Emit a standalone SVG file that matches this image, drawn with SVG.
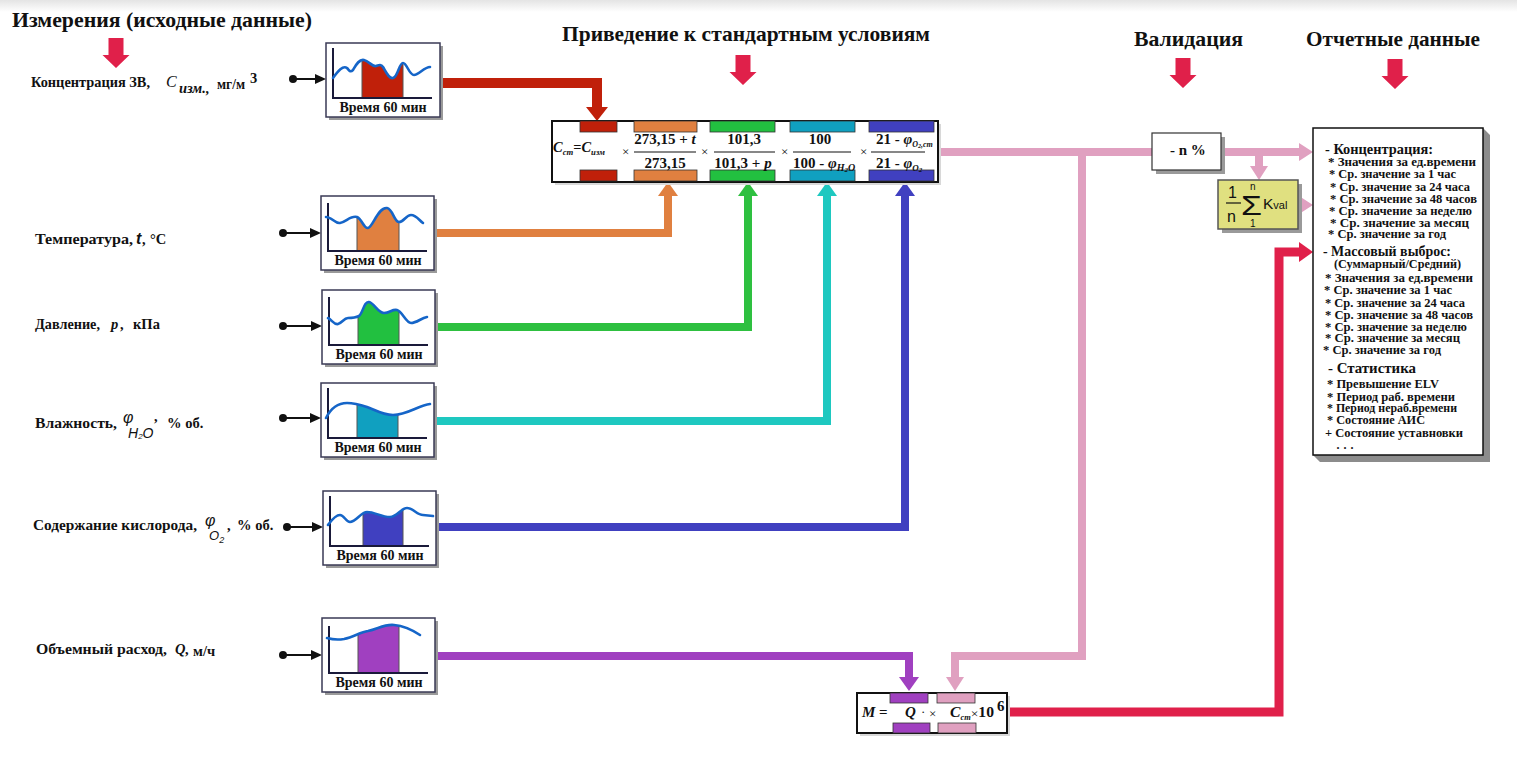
<svg xmlns="http://www.w3.org/2000/svg" width="1517" height="757" viewBox="0 0 1517 757">
<defs>
<style>
text{font-family:"Liberation Serif","Times New Roman",serif;fill:#111}
.ttl{font-family:"Liberation Serif",serif;font-size:21px;font-weight:bold}
.hdr{font-family:"Liberation Serif",serif;font-size:22px;font-weight:bold}
.lbl{font-family:"Liberation Serif",serif;font-size:14.5px;font-weight:bold}
.cl{font-family:"Liberation Serif",serif;font-size:14px;font-weight:bold}
.fx{font-family:"Liberation Serif",serif;font-size:15px;font-weight:bold}
.it{font-style:italic}
.sans{font-family:"Liberation Sans",Arial,sans-serif}
.rh{font-family:"Liberation Serif",serif;font-size:15px;font-weight:bold}
.ri{font-family:"Liberation Serif",serif;font-size:12px;font-weight:bold}
.box{fill:#fff;stroke:#3a3a55;stroke-width:1.5}
.shadow{fill:#9a9a9a}
.axis{stroke:#1a1a3a;stroke-width:2;fill:none}
.curve{stroke:#1565c8;stroke-width:2.6;fill:none;stroke-linecap:round}
.tab{stroke:#333;stroke-width:0.8}
.conn{fill:none;stroke-linejoin:miter}
.in{stroke:#111;stroke-width:2}
.mul{font-family:"Liberation Serif",serif;font-size:13px;font-weight:normal}
.fl{stroke:#111;stroke-width:1.2}
</style>
<linearGradient id="topband" x1="0" y1="0" x2="0" y2="1">
<stop offset="0" stop-color="#e4e4e4"/><stop offset="1" stop-color="#ffffff"/>
</linearGradient>
<path id="hdrArrow" d="M-7.5,0 H7.5 V17 H13.5 L0,30 L-13.5,17 H-7.5 Z" fill="#E0204A"/>
<marker id="ah-in" viewBox="0 0 11 10" refX="0" refY="5" markerWidth="11" markerHeight="10" orient="auto" markerUnits="userSpaceOnUse"><path d="M0,0 L11,5 L0,10 z" fill="#111"/></marker>
<marker id="ah-red" viewBox="0 0 14 22" refX="0" refY="11" markerWidth="14" markerHeight="22" orient="auto" markerUnits="userSpaceOnUse"><path d="M0,0 L14,11 L0,22 z" fill="#C0200A"/></marker>
<marker id="ah-orange" viewBox="0 0 14 20" refX="0" refY="10" markerWidth="14" markerHeight="20" orient="auto" markerUnits="userSpaceOnUse"><path d="M0,0 L14,10 L0,20 z" fill="#E08040"/></marker>
<marker id="ah-green" viewBox="0 0 14 20" refX="0" refY="10" markerWidth="14" markerHeight="20" orient="auto" markerUnits="userSpaceOnUse"><path d="M0,0 L14,10 L0,20 z" fill="#2EC040"/></marker>
<marker id="ah-cyan" viewBox="0 0 14 20" refX="0" refY="10" markerWidth="14" markerHeight="20" orient="auto" markerUnits="userSpaceOnUse"><path d="M0,0 L14,10 L0,20 z" fill="#1EC8C0"/></marker>
<marker id="ah-blue" viewBox="0 0 14 20" refX="0" refY="10" markerWidth="14" markerHeight="20" orient="auto" markerUnits="userSpaceOnUse"><path d="M0,0 L14,10 L0,20 z" fill="#4040C0"/></marker>
<marker id="ah-purple" viewBox="0 0 14 20" refX="0" refY="10" markerWidth="14" markerHeight="20" orient="auto" markerUnits="userSpaceOnUse"><path d="M0,0 L14,10 L0,20 z" fill="#A040C0"/></marker>
<marker id="ah-pink" viewBox="0 0 14 18" refX="0" refY="9" markerWidth="14" markerHeight="18" orient="auto" markerUnits="userSpaceOnUse"><path d="M0,0 L14,9 L0,18 z" fill="#E0A0C0"/></marker>
<marker id="ah-crimson" viewBox="0 0 14 20" refX="0" refY="10" markerWidth="14" markerHeight="20" orient="auto" markerUnits="userSpaceOnUse"><path d="M0,0 L14,10 L0,20 z" fill="#E0204A"/></marker>
<clipPath id="a1" clipPathUnits="userSpaceOnUse"><path d="M7,35 C12,28 17,22 21,25 C23,27 24,30 27,27 C30,22 33,16 38,17 C43,18 46,24 50,23 C53,22 55,21 57,24 C60,29 63,36 67,35 C72,34 73,20 77,20 C81,20 83,32 88,32 C93,32 98,24 104,24 L104,55 L7,55 Z"/></clipPath>
<clipPath id="a2" clipPathUnits="userSpaceOnUse"><path d="M5,21 C11,21 14,28 19,27 C25,26 30,19 36,21 C41,23 43,33 47,32 C52,31 57,11 66,12 C72,13 73,26 78,26 C83,26 85,19 90,19 C95,19 98,24 102,27 L102,55 L5,55 Z"/></clipPath>
<clipPath id="a3" clipPathUnits="userSpaceOnUse"><path d="M6,28 C10,30 12,35 16,34 C20,33 22,28 26,28 C30,28 33,28 37,26 C41,23 42,11 47,12 C52,13 56,23 62,23 C68,23 70,19 75,20 C80,21 84,33 89,33 C95,33 99,28 105,27 L105,55 L6,55 Z"/></clipPath>
<clipPath id="a4" clipPathUnits="userSpaceOnUse"><path d="M5,35 C10,25 18,20 26,20 C34,20 40,22 46,24 C54,27 62,32 72,32 C86,32 98,22 109,21 L109,55 L5,55 Z"/></clipPath>
<clipPath id="a5" clipPathUnits="userSpaceOnUse"><path d="M5,34 C8,30 12,24 17,24 C21,24 23,31 27,31 C33,31 38,21 44,21 C52,21 58,26 67,26 C74,26 78,17 84,17 C90,17 94,24 100,24 L110,25 L110,55 L5,55 Z"/></clipPath>
<clipPath id="a6" clipPathUnits="userSpaceOnUse"><path d="M5,20 C12,22 16,22 22,21 C32,19 38,14 46,13 C56,11 62,6 72,7 C83,8 92,13 98,17 L98,55 L5,55 Z"/></clipPath>
</defs>

<rect x="0" y="0" width="1517" height="757" fill="#fff"/>
<rect x="0" y="0" width="1517" height="12" fill="url(#topband)"/>

<g id="headers">
<text class="ttl" x="12" y="27" textLength="300" lengthAdjust="spacingAndGlyphs">Измерения  (исходные данные)</text>
<text class="hdr" x="562" y="41" textLength="368" lengthAdjust="spacingAndGlyphs">Приведение к стандартным условиям</text>
<text class="hdr" x="1134" y="46" textLength="109" lengthAdjust="spacingAndGlyphs">Валидация</text>
<text class="hdr" x="1306" y="46" textLength="174" lengthAdjust="spacingAndGlyphs">Отчетные данные</text>
<use href="#hdrArrow" x="116" y="38"/>
<use href="#hdrArrow" x="743" y="55"/>
<use href="#hdrArrow" x="1183" y="58"/>
<use href="#hdrArrow" x="1395" y="59"/>
</g>

<g id="connectors" class="conn">
<path d="M441,83 H597 V107" stroke="#C0200A" stroke-width="10" fill="none" marker-end="url(#ah-red)"/>
<path d="M434,233 H668 V196" stroke="#E08040" stroke-width="8" fill="none" marker-end="url(#ah-orange)"/>
<path d="M435,327 H748 V196" stroke="#2EC040" stroke-width="8" fill="none" marker-end="url(#ah-green)"/>
<path d="M434,421 H827 V196" stroke="#1EC8C0" stroke-width="8" fill="none" marker-end="url(#ah-cyan)"/>
<path d="M436,527 H905 V196" stroke="#4040C0" stroke-width="8" fill="none" marker-end="url(#ah-blue)"/>
<path d="M435,656 H909 V677" stroke="#A040C0" stroke-width="8" fill="none" marker-end="url(#ah-purple)"/>
<path d="M938,152 H1152" stroke="#E0A0C0" stroke-width="8" fill="none"/>
<path d="M1082,152 V656 H955 V677" stroke="#E0A0C0" stroke-width="8" fill="none" marker-end="url(#ah-pink)"/>
<path d="M1221,152 H1299" stroke="#E0A0C0" stroke-width="8" fill="none" marker-end="url(#ah-pink)"/>
<path d="M1259,152 V166" stroke="#E0A0C0" stroke-width="8" fill="none" marker-end="url(#ah-pink)"/>
<path d="M1296,205 H1299" stroke="#E0A0C0" stroke-width="8" fill="none" marker-end="url(#ah-pink)"/>
<path d="M1007,712 H1279 V252 H1299" stroke="#E0204A" stroke-width="9" fill="none" marker-end="url(#ah-crimson)"/>
</g>

<g id="m-conc">
<text class="lbl" x="31" y="87" textLength="119" lengthAdjust="spacingAndGlyphs">Концентрация ЗВ,</text>
<text class="it" x="166" y="87" font-size="16">C</text>
<text class="lbl it" x="179" y="93" font-size="13">изм.,</text>
<text class="lbl" x="217" y="89" textLength="28" lengthAdjust="spacingAndGlyphs">мг/м</text>
<text class="lbl" x="250" y="83" font-size="15">3</text>
<g transform="translate(326,43)">
<circle cx="-33" cy="36" r="4" fill="#111"/><path class="in" d="M-33,36 H-11" marker-end="url(#ah-in)"/>
<rect class="shadow" x="3" y="3" width="114" height="74"/><rect class="box" x="0" y="0" width="114" height="74"/>
<rect x="36" y="0" width="41" height="55" fill="#C0200A" stroke="#555" stroke-width="1" clip-path="url(#a1)"/>
<path class="axis" d="M7,5 V55 H106"/>
<path class="curve" d="M7,35 C12,28 17,22 21,25 C23,27 24,30 27,27 C30,22 33,16 38,17 C43,18 46,24 50,23 C53,22 55,21 57,24 C60,29 63,36 67,35 C72,34 73,20 77,20 C81,20 83,32 88,32 C93,32 98,24 104,24"/>
<text class="cl" x="57" y="69" text-anchor="middle">Время 60 мин</text>
</g>
</g>

<g id="m-temp">
<text class="lbl" x="35" y="244" textLength="98" lengthAdjust="spacingAndGlyphs">Температура,</text>
<text class="sans it" x="136" y="244" font-size="16" font-weight="bold">t</text>
<text class="lbl" x="142" y="244">,</text>
<text class="lbl" x="150" y="244" font-weight="normal">°C</text>
<g transform="translate(321,196)">
<circle cx="-38" cy="37" r="4" fill="#111"/><path class="in" d="M-38,37 H-11" marker-end="url(#ah-in)"/>
<rect class="shadow" x="3" y="3" width="113" height="74"/><rect class="box" x="0" y="0" width="113" height="74"/>
<rect x="36" y="0" width="42" height="55" fill="#E08040" stroke="#555" stroke-width="1" clip-path="url(#a2)"/>
<path class="axis" d="M7,7 V55 H106"/>
<path class="curve" d="M5,21 C11,21 14,28 19,27 C25,26 30,19 36,21 C41,23 43,33 47,32 C52,31 57,11 66,12 C72,13 73,26 78,26 C83,26 85,19 90,19 C95,19 98,24 102,27"/>
<text class="cl" x="57" y="69" text-anchor="middle">Время 60 мин</text>
</g>
</g>

<g id="m-press">
<text class="lbl" x="35" y="329" textLength="65" lengthAdjust="spacingAndGlyphs">Давление,</text>
<text class="lbl it" x="111" y="329" font-size="15">p</text>
<text class="lbl" x="120" y="329">,</text>
<text class="lbl" x="133" y="329">кПа</text>
<g transform="translate(322,290)">
<circle cx="-39" cy="36" r="4" fill="#111"/><path class="in" d="M-39,36 H-11" marker-end="url(#ah-in)"/>
<rect class="shadow" x="3" y="3" width="113" height="74"/><rect class="box" x="0" y="0" width="113" height="74"/>
<rect x="36" y="0" width="41" height="55" fill="#22C040" stroke="#555" stroke-width="1" clip-path="url(#a3)"/>
<path class="axis" d="M7,7 V55 H106"/>
<path class="curve" d="M6,28 C10,30 12,35 16,34 C20,33 22,28 26,28 C30,28 33,28 37,26 C41,23 42,11 47,12 C52,13 56,23 62,23 C68,23 70,19 75,20 C80,21 84,33 89,33 C95,33 99,28 105,27"/>
<text class="cl" x="57" y="69" text-anchor="middle">Время 60 мин</text>
</g>
</g>

<g id="m-hum">
<text class="lbl" x="35" y="428" textLength="82" lengthAdjust="spacingAndGlyphs">Влажность,</text>
<text class="sans it" x="123" y="423" font-size="16">φ</text>
<text class="sans it" x="128" y="438" font-size="14">H<tspan font-size="8" dy="1">2</tspan><tspan dy="-1">O</tspan></text>
<text class="lbl" x="154" y="421">,</text>
<text class="lbl" x="167" y="428">% об.</text>
<g transform="translate(321,383)">
<circle cx="-38" cy="35" r="4" fill="#111"/><path class="in" d="M-38,35 H-11" marker-end="url(#ah-in)"/>
<rect class="shadow" x="3" y="3" width="113" height="74"/><rect class="box" x="0" y="0" width="113" height="74"/>
<rect x="36" y="0" width="41" height="55" fill="#10A0C0" stroke="#555" stroke-width="1" clip-path="url(#a4)"/>
<path class="axis" d="M7,5 V55 H106"/>
<path class="curve" d="M5,35 C10,25 18,20 26,20 C34,20 40,22 46,24 C54,27 62,32 72,32 C86,32 98,22 109,21"/>
<text class="cl" x="57" y="69" text-anchor="middle">Время 60 мин</text>
</g>
</g>

<g id="m-oxy">
<text class="lbl" x="33" y="530" textLength="164" lengthAdjust="spacingAndGlyphs">Содержание кислорода,</text>
<text class="sans it" x="205" y="526" font-size="16">φ</text>
<text class="sans it" x="209" y="540" font-size="13">O<tspan font-size="9" dy="3">2</tspan></text>
<text class="lbl" x="227" y="530">,</text>
<text class="lbl" x="237" y="530">% об.</text>
<g transform="translate(323,491)">
<circle cx="-36" cy="36" r="4" fill="#111"/><path class="in" d="M-36,36 H-11" marker-end="url(#ah-in)"/>
<rect class="shadow" x="3" y="3" width="113" height="74"/><rect class="box" x="0" y="0" width="113" height="74"/>
<rect x="40" y="0" width="40" height="55" fill="#4040C0" stroke="#555" stroke-width="1" clip-path="url(#a5)"/>
<path class="axis" d="M7,5 V55 H106"/>
<path class="curve" d="M5,34 C8,30 12,24 17,24 C21,24 23,31 27,31 C33,31 38,21 44,21 C52,21 58,26 67,26 C74,26 78,17 84,17 C90,17 94,24 100,24 L110,25"/>
<text class="cl" x="57" y="69" text-anchor="middle">Время 60 мин</text>
</g>
</g>

<g id="m-flow">
<text class="lbl" x="36" y="654" textLength="131" lengthAdjust="spacingAndGlyphs">Объемный расход,</text>
<text class="lbl it" x="175" y="654" font-size="15">Q</text>
<text class="lbl" x="185" y="654">,</text>
<text class="lbl" x="193" y="656" font-size="13">м/ч</text>
<g transform="translate(322,618)">
<circle cx="-39" cy="37" r="4" fill="#111"/><path class="in" d="M-39,37 H-11" marker-end="url(#ah-in)"/>
<rect class="shadow" x="3" y="3" width="113" height="74"/><rect class="box" x="0" y="0" width="113" height="74"/>
<rect x="36" y="0" width="41" height="55" fill="#A040C0" stroke="#555" stroke-width="1" clip-path="url(#a6)"/>
<path class="axis" d="M7,8 V55 H106"/>
<path class="curve" d="M5,20 C12,22 16,22 22,21 C32,19 38,14 46,13 C56,11 62,6 72,7 C83,8 92,13 98,17"/>
<text class="cl" x="57" y="69" text-anchor="middle">Время 60 мин</text>
</g>
</g>

<g id="formula-std">
<rect x="555" y="124" width="386" height="61" fill="#d8d8d8"/>
<rect x="552" y="121" width="386" height="61" fill="#fff" stroke="#111" stroke-width="2"/>
<rect class="tab" x="580" y="121" width="37" height="11" fill="#C0200A"/>
<rect class="tab" x="634" y="121" width="63" height="11" fill="#E08040"/>
<rect class="tab" x="710" y="121" width="65" height="11" fill="#22C040"/>
<rect class="tab" x="790" y="121" width="65" height="11" fill="#10A0C0"/>
<rect class="tab" x="869" y="121" width="65" height="11" fill="#4040C0"/>
<rect class="tab" x="580" y="170" width="37" height="11" fill="#C0200A"/>
<rect class="tab" x="634" y="170" width="63" height="11" fill="#E08040"/>
<rect class="tab" x="710" y="170" width="65" height="11" fill="#22C040"/>
<rect class="tab" x="790" y="170" width="65" height="11" fill="#10A0C0"/>
<rect class="tab" x="869" y="170" width="65" height="11" fill="#4040C0"/>
<text class="fx it" x="553" y="152" font-size="15" textLength="52" lengthAdjust="spacingAndGlyphs">C<tspan font-size="9" dy="3">ст</tspan><tspan font-style="normal" dy="-3">=</tspan>C<tspan font-size="9" dy="3">изм</tspan></text>
<text class="mul" x="622" y="156">×</text>
<text class="fx" x="665" y="144" text-anchor="middle">273,15 + <tspan class="it">t</tspan></text>
<line class="fl" x1="634" y1="152" x2="696" y2="152"/>
<text class="fx" x="665" y="168" text-anchor="middle">273,15</text>
<text class="mul" x="701" y="156">×</text>
<text class="fx" x="744" y="144" text-anchor="middle">101,3</text>
<line class="fl" x1="714" y1="152" x2="775" y2="152"/>
<text class="fx" x="743" y="168" text-anchor="middle">101,3 + <tspan class="it">p</tspan></text>
<text class="mul" x="781" y="156">×</text>
<text class="fx" x="820" y="144" text-anchor="middle">100</text>
<line class="fl" x1="793" y1="152" x2="851" y2="152"/>
<text class="fx" x="793" y="168">100 - <tspan class="it">φ</tspan><tspan class="it" font-size="10" dy="3">H</tspan><tspan class="it" font-size="7" dy="1">2</tspan><tspan class="it" font-size="10" dy="-1">O</tspan></text>
<text class="mul" x="860" y="156">×</text>
<text class="fx" x="876" y="144">21 - <tspan class="it">φ</tspan><tspan class="it" font-size="8" dy="3">O</tspan><tspan class="it" font-size="6" dy="1">2</tspan><tspan class="it" font-size="8" dy="-1">,ст</tspan></text>
<line class="fl" x1="871" y1="152" x2="925" y2="152"/>
<text class="fx" x="876" y="168">21 - <tspan class="it">φ</tspan><tspan class="it" font-size="9" dy="3">O</tspan><tspan class="it" font-size="7" dy="1">2</tspan></text>
</g>

<g id="formula-mass">
<rect x="860" y="696" width="150" height="40" fill="#d8d8d8"/>
<rect x="857" y="693" width="150" height="40" fill="#fff" stroke="#111" stroke-width="2"/>
<rect class="tab" x="890" y="693" width="38" height="10" fill="#A040C0"/>
<rect class="tab" x="937" y="693" width="38" height="10" fill="#E0A0C0"/>
<rect class="tab" x="893" y="723" width="37" height="10" fill="#A040C0"/>
<rect class="tab" x="938" y="723" width="38" height="10" fill="#E0A0C0"/>
<text class="fx it" x="862" y="717">M</text>
<text class="fx" x="879" y="717">=</text>
<text class="fx it" x="905" y="717">Q</text>
<text class="mul" x="921" y="716" fill="#aaa">·</text>
<text class="mul" x="929" y="718">×</text>
<text class="fx it" x="950" y="717" textLength="44" lengthAdjust="spacingAndGlyphs">C<tspan font-size="8" dy="3">ст</tspan><tspan class="mul" font-style="normal" dy="-2">×</tspan><tspan font-style="normal" dy="-1">10</tspan></text>
<text class="fx" x="997" y="711" font-size="13">6</text>
</g>

<g id="validation">
<rect class="shadow" x="1156" y="137" width="69" height="37"/>
<rect x="1152" y="133" width="69" height="37" fill="#fff" stroke="#333" stroke-width="1.2"/>
<text class="fx" x="1170" y="155" font-size="14">- n %</text>
</g>

<g id="average">
<rect class="shadow" x="1222" y="184" width="80" height="49"/>
<rect x="1218" y="180" width="80" height="49" fill="#E0E080" stroke="#555" stroke-width="1.5"/>
<text class="sans" x="1228" y="198" font-size="16">1</text>
<line x1="1226" y1="203" x2="1241" y2="203" stroke="#111" stroke-width="1.2"/>
<text class="sans" x="1227" y="222" font-size="16">n</text>
<text class="sans" x="1241" y="215" font-size="28" textLength="21" lengthAdjust="spacingAndGlyphs">Σ</text>
<text class="sans" x="1250" y="190" font-size="10">n</text>
<text class="sans" x="1250" y="227" font-size="10">1</text>
<text class="sans" x="1263" y="209" font-size="15.5">K<tspan font-size="11">val</tspan></text>
</g>

<g id="report">
<path d="M1483,128 L1490,135 L1490,462 L1320,462 L1313,455 L1483,455 Z" fill="#8c8c8c"/>
<rect x="1313" y="128" width="170" height="327" fill="#fff" stroke="#111" stroke-width="1.5"/>
<text class="rh" x="1325" y="154" textLength="108" lengthAdjust="spacingAndGlyphs">- Концентрация:</text>
<text class="ri" x="1328" y="166" textLength="148" lengthAdjust="spacingAndGlyphs">* Значения за ед.времени</text>
<text class="ri" x="1329" y="178" textLength="127" lengthAdjust="spacingAndGlyphs">* Ср. значение за 1 час</text>
<text class="ri" x="1330" y="191" textLength="140" lengthAdjust="spacingAndGlyphs">* Ср. значение за 24 часа</text>
<text class="ri" x="1330" y="203" textLength="147" lengthAdjust="spacingAndGlyphs">* Ср. значение за 48 часов</text>
<text class="ri" x="1329" y="215" textLength="143" lengthAdjust="spacingAndGlyphs">* Ср. значение за неделю</text>
<text class="ri" x="1330" y="227" textLength="139" lengthAdjust="spacingAndGlyphs">* Ср. значение за месяц</text>
<text class="ri" x="1328" y="238" textLength="118" lengthAdjust="spacingAndGlyphs">* Ср. значение за год</text>
<text class="rh" x="1323" y="256" textLength="128" lengthAdjust="spacingAndGlyphs">- Массовый выброс:</text>
<text class="ri" x="1334" y="268" textLength="127" lengthAdjust="spacingAndGlyphs">(Суммарный/Средний)</text>
<text class="ri" x="1325" y="282" textLength="148" lengthAdjust="spacingAndGlyphs">* Значения за ед.времени</text>
<text class="ri" x="1324" y="294" textLength="128" lengthAdjust="spacingAndGlyphs">* Ср. значение за 1 час</text>
<text class="ri" x="1325" y="307" textLength="140" lengthAdjust="spacingAndGlyphs">* Ср. значение за 24 часа</text>
<text class="ri" x="1325" y="319" textLength="148" lengthAdjust="spacingAndGlyphs">* Ср. значение за 48 часов</text>
<text class="ri" x="1325" y="331" textLength="142" lengthAdjust="spacingAndGlyphs">* Ср. значение за неделю</text>
<text class="ri" x="1325" y="342" textLength="135" lengthAdjust="spacingAndGlyphs">* Ср. значение за месяц</text>
<text class="ri" x="1323" y="354" textLength="118" lengthAdjust="spacingAndGlyphs">* Ср. значение за год</text>
<text class="rh" x="1328" y="373" font-size="16" textLength="88" lengthAdjust="spacingAndGlyphs">- Статистика</text>
<text class="ri" x="1327" y="388" textLength="112" lengthAdjust="spacingAndGlyphs">* Превышение ELV</text>
<text class="ri" x="1327" y="401" textLength="128" lengthAdjust="spacingAndGlyphs">* Период раб. времени</text>
<text class="ri" x="1327" y="412" textLength="130" lengthAdjust="spacingAndGlyphs">* Период нераб.времени</text>
<text class="ri" x="1327" y="424" textLength="98" lengthAdjust="spacingAndGlyphs">* Состояние АИС</text>
<text class="ri" x="1325" y="437" textLength="138" lengthAdjust="spacingAndGlyphs">+ Состояние уставновки</text>
<text class="ri" x="1336" y="452" font-size="8">· · ·</text>
</g>
</svg>
